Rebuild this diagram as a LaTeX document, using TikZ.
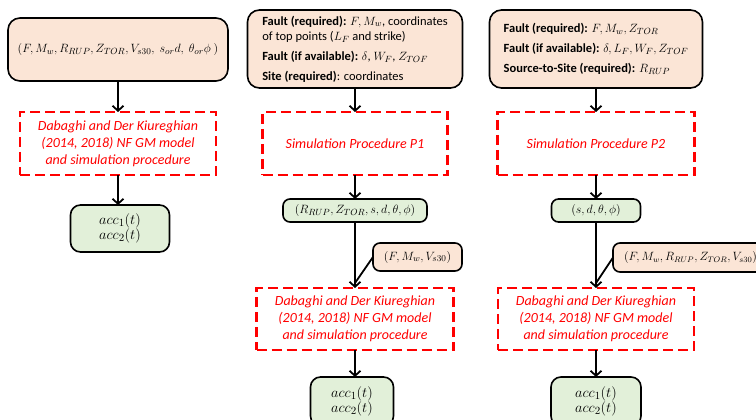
\documentclass[tikz,border=0pt]{standalone}
\usepackage{fontspec}
\setmainfont{Carlito}
\usetikzlibrary{arrows.meta}
\definecolor{orfill}{HTML}{FBE5D6}
\definecolor{grfill}{HTML}{E2F0D9}
\definecolor{myred}{HTML}{FF0000}
\tikzset{
  base/.style={inner sep=0pt, outer sep=0pt, anchor=center},
  inbox/.style={base, draw=black, line width=1.6pt, rounded corners=12pt, fill=orfill, align=left, font=\fontsize{12.5}{15}\selectfont},
  outbox/.style={base, draw=black, line width=1.6pt, rounded corners=10pt, fill=grfill, align=center, font=\fontsize{13}{15}\selectfont},
  accbox/.style={outbox, font=\fontsize{15.5}{14}\selectfont},
  simbox/.style={base, draw=myred, line width=2.6pt, dash pattern=on 10pt off 5pt, text=myred, align=center, font=\fontsize{14}{17}\selectfont\itshape},
  arr/.style={line width=1.8pt, -{Straight Barb[length=5pt,width=11pt]}},
  ln/.style={line width=1.8pt},
}
\begin{document}
\begin{tikzpicture}[x=1pt,y=-1pt]
\useasboundingbox (0,0) rectangle (756,420);
% column 1
\node[inbox, minimum width=220, minimum height=63, font=\fontsize{13}{15}\selectfont] (in1) at (118,49.5)
  {$(F, M_w, R_{RUP}, Z_{TOR}, V_{s30},\ s_{or} d,\ \theta_{or} \phi\ )$};
\node[simbox, minimum width=196, minimum height=63] (sim1) at (118,143.5)
  {Dabaghi and Der Kiureghian\\(2014, 2018) NF GM model\\and simulation procedure};
\node[accbox, minimum width=99, minimum height=47] (out1) at (120,228.5)
  {$acc_1(t)$\\$acc_2(t)$};
\draw[arr] (in1.south) -- (sim1.north);
\draw[arr] (sim1.south) -- (sim1.south |- out1.north);
% column 2
\node[inbox, minimum width=215, minimum height=78] (in2) at (355,49)
  {\textbf{Fault (required):} $F, M_w$, coordinates\\
   of top points ($L_F$ and strike)\\[5pt]
   \textbf{Fault (if available):} $\delta$, $W_F$, $Z_{TOF}$\\[5pt]
   \textbf{Site (required)}: coordinates};
\node[simbox, minimum width=185, minimum height=63] (sim2) at (355,143.5)
  {Simulation Procedure P1};
\node[outbox, minimum width=144, minimum height=23, rounded corners=7pt] (mid2) at (355,210.5)
  {$(R_{RUP}, Z_{TOR}, s, d, \theta, \phi)$};
\node[outbox, fill=orfill, minimum width=89, minimum height=28, rounded corners=7pt] (par2) at (417.5,257)
  {$(F, M_w, V_{s30})$};
\node[simbox, minimum width=197, minimum height=62] (dgm2) at (355,319)
  {Dabaghi and Der Kiureghian\\(2014, 2018) NF GM model\\and simulation procedure};
\node[accbox, minimum width=83, minimum height=49] (out2) at (352,401.5)
  {$acc_1(t)$\\$acc_2(t)$};
\coordinate (j2) at ([yshift=5pt]dgm2.north);
\draw[arr] (in2.south) -- (sim2.north);
\draw[arr] (sim2.south) -- (mid2.north);
\draw[arr] (mid2.south) -- (dgm2.north);
\draw[ln] (par2.west) -- (j2);
\draw[arr] (dgm2.south) -- (dgm2.south |- out2.north);
% column 3
\node[inbox, minimum width=213, minimum height=78] (in3) at (596,49)
  {\textbf{Fault (required):} $F, M_w, Z_{TOR}$\\[5pt]
   \textbf{Fault (if available):} $\delta, L_F, W_F, Z_{TOF}$\\[5pt]
   \textbf{Source-to-Site (required):} $R_{RUP}$};
\node[simbox, minimum width=197, minimum height=63] (sim3) at (596,143.5)
  {Simulation Procedure P2};
\node[outbox, minimum width=89, minimum height=23, rounded corners=7pt] (mid3) at (596,210.5)
  {$(s, d, \theta, \phi)$};
\node[outbox, fill=orfill, minimum width=160, minimum height=29, rounded corners=7pt, anchor=west, align=left, text width=150, font=\fontsize{12}{15}\selectfont] (par3) at (613,257.5)
  {\hspace*{6pt}$(F, M_w, R_{RUP}, Z_{TOR}, V_{s30})$};
\node[simbox, minimum width=196, minimum height=62] (dgm3) at (596,319)
  {Dabaghi and Der Kiureghian\\(2014, 2018) NF GM model\\and simulation procedure};
\node[accbox, minimum width=90, minimum height=49] (out3) at (596,401.5)
  {$acc_1(t)$\\$acc_2(t)$};
\coordinate (j3) at ([yshift=5pt]dgm3.north);
\draw[arr] (in3.south) -- (sim3.north);
\draw[arr] (sim3.south) -- (mid3.north);
\draw[arr] (mid3.south) -- (dgm3.north);
\draw[ln] (par3.west) -- (j3);
\draw[arr] (dgm3.south) -- (out3.north);
\end{tikzpicture}
\end{document}
